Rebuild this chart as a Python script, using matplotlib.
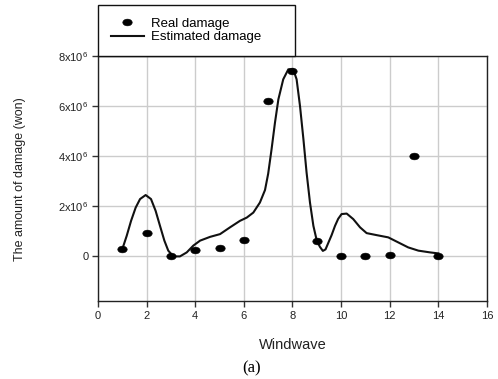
## Real vs estimated damage by windwave
import matplotlib
matplotlib.use('Agg')
import matplotlib.pyplot as plt
from matplotlib.path import Path
from matplotlib.transforms import Affine2D
import numpy as np

plt.rcParams['font.family'] = ['Liberation Sans', 'DejaVu Sans']
plt.rcParams['mathtext.fontset'] = 'custom'
plt.rcParams['mathtext.rm'] = 'Liberation Sans'

## data
windwave = [1, 2, 3, 4, 5, 6, 7, 8, 9, 10, 11, 12, 13, 14]
real_damage = [0.29e6, 0.95e6, 0.03e6, 0.25e6, 0.32e6, 0.67e6, 6.2e6,
               7.4e6, 0.6e6, 0.0, 0.0, 0.05e6, 4.01e6, 0.0]

est_x = [1.0, 1.18, 1.36, 1.55, 1.73, 1.96, 2.18, 2.37, 2.55, 2.73, 2.89,
         3.1, 3.37, 3.65, 3.92, 4.2, 4.61, 5.02, 5.43, 5.84, 6.12, 6.39,
         6.66, 6.87, 7.0, 7.14, 7.28, 7.42, 7.62, 7.83, 8.03, 8.17, 8.31,
         8.45, 8.58, 8.72, 8.86, 9.0, 9.13, 9.25, 9.36, 9.5, 9.61, 9.75,
         9.88, 10.02, 10.23, 10.5, 10.78, 11.05, 11.46, 11.94, 12.35,
         12.76, 13.18, 13.66, 14.0]
est_y = [0.29e6, 0.82e6, 1.42e6, 1.95e6, 2.29e6, 2.45e6, 2.29e6, 1.82e6,
         1.22e6, 0.63e6, 0.23e6, 0.0, 0.0, 0.16e6, 0.43e6, 0.63e6, 0.78e6,
         0.89e6, 1.16e6, 1.42e6, 1.55e6, 1.75e6, 2.15e6, 2.65e6, 3.3e6,
         4.28e6, 5.34e6, 6.27e6, 7.07e6, 7.47e6, 7.47e6, 7.07e6, 6.0e6,
         4.68e6, 3.35e6, 2.15e6, 1.22e6, 0.63e6, 0.38e6, 0.22e6, 0.28e6,
         0.6e6, 0.85e6, 1.22e6, 1.5e6, 1.69e6, 1.71e6, 1.49e6, 1.16e6,
         0.93e6, 0.85e6, 0.76e6, 0.56e6, 0.36e6, 0.23e6, 0.16e6, 0.12e6]

xticks = [0, 2, 4, 6, 8, 10, 12, 14, 16]
yticks = [0, 2e6, 4e6, 6e6, 8e6]
ytick_labels = ['0', r'2x10$^6$', r'4x10$^6$', r'6x10$^6$', r'8x10$^6$']

## figure
fig = plt.figure(figsize=(4.98, 3.79), dpi=100)
ax = fig.add_axes([0.1968, 0.2045, 0.781, 0.6477])

ell = Path.unit_circle().transformed(Affine2D().scale(1.4, 1.0))

ax.plot(windwave, real_damage, linestyle='none', marker=ell, markersize=6.8,
        markeredgewidth=0.4, color='black', label='Real damage', zorder=3)
ax.plot(est_x, est_y, color='#111111', linewidth=1.5, label='Estimated damage',
        zorder=2, solid_joinstyle='round')

ax.set_xlim(0, 16)
ax.set_ylim(-1.8e6, 8e6)
ax.set_xticks(xticks)
ax.set_yticks(yticks)
ax.set_yticklabels(ytick_labels)
ax.tick_params(direction='out', length=4, width=1, color='#333333',
               labelsize=8, labelcolor='#222222', pad=3)
ax.grid(True, color='#cccccc', linewidth=1)
ax.set_axisbelow(True)
for s in ax.spines.values():
    s.set_color('#222222')
    s.set_linewidth(1)

ax.set_xlabel('Windwave', fontsize=10.5, color='#222222')
ax.xaxis.set_label_coords(0.5, -0.1475)
ax.xaxis.label.set_va('top')
ax.set_ylabel('The amount of damage (won)', fontsize=9, color='#222222')
ax.yaxis.set_label_coords(-0.2005, 0.5)
ax.yaxis.label.set_va('center')

leg = ax.legend(loc='lower left', bbox_to_anchor=(0, 1, 0.506, 0.2),
                mode='expand', borderaxespad=0, fancybox=False,
                edgecolor='#111111', framealpha=1, fontsize=9.5,
                handlelength=2.5, handletextpad=0.6, borderpad=0.95,
                labelspacing=0.1)
leg.get_frame().set_linewidth(1)

fig.text(251.7 / 498, 1 - 368.7 / 379, '(a)', ha='center', va='center',
         fontsize=12, family='Liberation Serif')

fig.savefig('out.png', dpi=100)
